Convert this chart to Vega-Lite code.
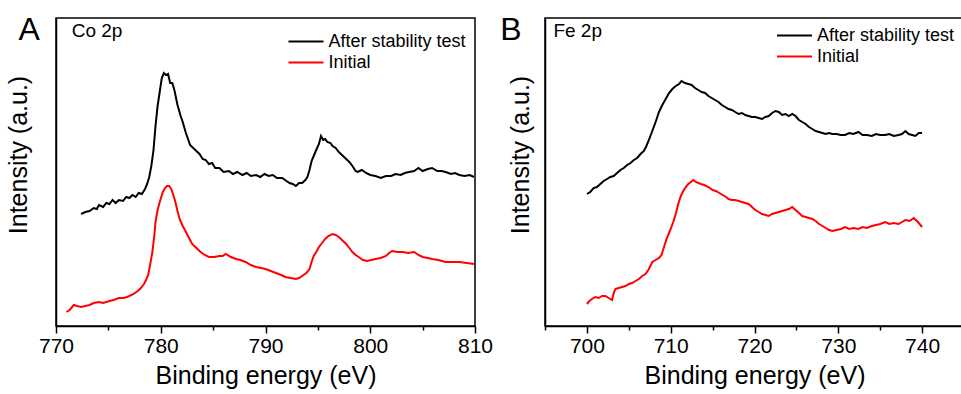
{
  "$schema": "https://vega.github.io/schema/vega-lite/v6.json",
  "padding": {"left": 5, "top": 12, "right": 0, "bottom": 0},
  "bounds": "flush",
  "spacing": 70,
  "config": {
    "font": "Liberation Sans",
    "view": {"stroke": "black", "strokeWidth": 1.5},
    "axis": {"domainColor": "black", "domainWidth": 1.5, "tickColor": "black", "tickWidth": 1.5, "labelColor": "black", "titleColor": "black", "labelFont": "Liberation Sans", "titleFont": "Liberation Sans", "labelFontSize": 21, "titleFontSize": 25, "titleFontWeight": "normal", "grid": false},
    "legend": {"labelFont": "Liberation Sans", "labelFontSize": 18, "labelColor": "black", "symbolType": "M-1.75,0H1.75", "symbolSize": 400, "symbolStrokeWidth": 2, "labelOffset": 11.5, "padding": 0, "rowPadding": 1}
  },
  "datasets": {
    "co2p": [
      {"eV":772.4,"intensity":112,"series":"After stability test"},{"eV":772.8,"intensity":114,"series":"After stability test"},{"eV":773.2,"intensity":115,"series":"After stability test"},{"eV":773.6,"intensity":118,"series":"After stability test"},{"eV":773.9,"intensity":117,"series":"After stability test"},{"eV":774.1,"intensity":121,"series":"After stability test"},{"eV":774.5,"intensity":119,"series":"After stability test"},{"eV":774.8,"intensity":123,"series":"After stability test"},{"eV":775.1,"intensity":122,"series":"After stability test"},{"eV":775.4,"intensity":126,"series":"After stability test"},{"eV":775.7,"intensity":123,"series":"After stability test"},{"eV":776.0,"intensity":126,"series":"After stability test"},{"eV":776.4,"intensity":125,"series":"After stability test"},{"eV":776.7,"intensity":129,"series":"After stability test"},{"eV":777.0,"intensity":128,"series":"After stability test"},{"eV":777.3,"intensity":131,"series":"After stability test"},{"eV":777.6,"intensity":129,"series":"After stability test"},{"eV":777.9,"intensity":133,"series":"After stability test"},{"eV":778.2,"intensity":132,"series":"After stability test"},{"eV":778.5,"intensity":137,"series":"After stability test"},{"eV":778.7,"intensity":142,"series":"After stability test"},{"eV":778.9,"intensity":149,"series":"After stability test"},{"eV":779.1,"intensity":160,"series":"After stability test"},{"eV":779.3,"intensity":175,"series":"After stability test"},{"eV":779.5,"intensity":200,"series":"After stability test"},{"eV":779.7,"intensity":220,"series":"After stability test"},{"eV":779.9,"intensity":234,"series":"After stability test"},{"eV":780.1,"intensity":248,"series":"After stability test"},{"eV":780.3,"intensity":253,"series":"After stability test"},{"eV":780.5,"intensity":251,"series":"After stability test"},{"eV":780.7,"intensity":252,"series":"After stability test"},{"eV":780.9,"intensity":243,"series":"After stability test"},{"eV":781.1,"intensity":243,"series":"After stability test"},{"eV":781.3,"intensity":236,"series":"After stability test"},{"eV":781.6,"intensity":221,"series":"After stability test"},{"eV":781.9,"intensity":210,"series":"After stability test"},{"eV":782.1,"intensity":204,"series":"After stability test"},{"eV":782.4,"intensity":193,"series":"After stability test"},{"eV":782.6,"intensity":187,"series":"After stability test"},{"eV":782.8,"intensity":181,"series":"After stability test"},{"eV":783.0,"intensity":179,"series":"After stability test"},{"eV":783.3,"intensity":176,"series":"After stability test"},{"eV":783.5,"intensity":174,"series":"After stability test"},{"eV":783.7,"intensity":172,"series":"After stability test"},{"eV":784.0,"intensity":167,"series":"After stability test"},{"eV":784.3,"intensity":166,"series":"After stability test"},{"eV":784.6,"intensity":162,"series":"After stability test"},{"eV":784.9,"intensity":163,"series":"After stability test"},{"eV":785.2,"intensity":158,"series":"After stability test"},{"eV":785.6,"intensity":158,"series":"After stability test"},{"eV":786.0,"intensity":154,"series":"After stability test"},{"eV":786.5,"intensity":155,"series":"After stability test"},{"eV":786.9,"intensity":152,"series":"After stability test"},{"eV":787.3,"intensity":154,"series":"After stability test"},{"eV":787.8,"intensity":151,"series":"After stability test"},{"eV":788.2,"intensity":153,"series":"After stability test"},{"eV":788.6,"intensity":150,"series":"After stability test"},{"eV":789.1,"intensity":151,"series":"After stability test"},{"eV":789.5,"intensity":149,"series":"After stability test"},{"eV":789.9,"intensity":152,"series":"After stability test"},{"eV":790.3,"intensity":150,"series":"After stability test"},{"eV":790.7,"intensity":151,"series":"After stability test"},{"eV":791.1,"intensity":148,"series":"After stability test"},{"eV":791.6,"intensity":148,"series":"After stability test"},{"eV":792.0,"intensity":145,"series":"After stability test"},{"eV":792.3,"intensity":143,"series":"After stability test"},{"eV":792.6,"intensity":142,"series":"After stability test"},{"eV":792.9,"intensity":140,"series":"After stability test"},{"eV":793.2,"intensity":143,"series":"After stability test"},{"eV":793.5,"intensity":143,"series":"After stability test"},{"eV":793.8,"intensity":146,"series":"After stability test"},{"eV":794.0,"intensity":149,"series":"After stability test"},{"eV":794.2,"intensity":156,"series":"After stability test"},{"eV":794.4,"intensity":165,"series":"After stability test"},{"eV":794.6,"intensity":170,"series":"After stability test"},{"eV":794.8,"intensity":175,"series":"After stability test"},{"eV":795.1,"intensity":182,"series":"After stability test"},{"eV":795.3,"intensity":190,"series":"After stability test"},{"eV":795.5,"intensity":186,"series":"After stability test"},{"eV":795.7,"intensity":187,"series":"After stability test"},{"eV":795.9,"intensity":184,"series":"After stability test"},{"eV":796.2,"intensity":183,"series":"After stability test"},{"eV":796.4,"intensity":180,"series":"After stability test"},{"eV":796.7,"intensity":178,"series":"After stability test"},{"eV":797.0,"intensity":174,"series":"After stability test"},{"eV":797.3,"intensity":171,"series":"After stability test"},{"eV":797.7,"intensity":167,"series":"After stability test"},{"eV":798.0,"intensity":164,"series":"After stability test"},{"eV":798.3,"intensity":160,"series":"After stability test"},{"eV":798.6,"intensity":155,"series":"After stability test"},{"eV":798.8,"intensity":154,"series":"After stability test"},{"eV":799.2,"intensity":156,"series":"After stability test"},{"eV":799.6,"intensity":153,"series":"After stability test"},{"eV":800.0,"intensity":151,"series":"After stability test"},{"eV":800.5,"intensity":150,"series":"After stability test"},{"eV":801.0,"intensity":148,"series":"After stability test"},{"eV":801.5,"intensity":150,"series":"After stability test"},{"eV":802.0,"intensity":150,"series":"After stability test"},{"eV":802.4,"intensity":152,"series":"After stability test"},{"eV":802.9,"intensity":151,"series":"After stability test"},{"eV":803.3,"intensity":153,"series":"After stability test"},{"eV":803.7,"intensity":154,"series":"After stability test"},{"eV":804.2,"intensity":155,"series":"After stability test"},{"eV":804.6,"intensity":158,"series":"After stability test"},{"eV":805.0,"intensity":155,"series":"After stability test"},{"eV":805.5,"intensity":157,"series":"After stability test"},{"eV":805.9,"intensity":158,"series":"After stability test"},{"eV":806.4,"intensity":155,"series":"After stability test"},{"eV":806.8,"intensity":155,"series":"After stability test"},{"eV":807.2,"intensity":154,"series":"After stability test"},{"eV":807.7,"intensity":152,"series":"After stability test"},{"eV":808.1,"intensity":153,"series":"After stability test"},{"eV":808.5,"intensity":151,"series":"After stability test"},{"eV":809.0,"intensity":150,"series":"After stability test"},{"eV":809.5,"intensity":151,"series":"After stability test"},{"eV":809.9,"intensity":149,"series":"After stability test"},
      {"eV":771.0,"intensity":14,"series":"Initial"},{"eV":771.3,"intensity":16,"series":"Initial"},{"eV":771.7,"intensity":21,"series":"Initial"},{"eV":772.0,"intensity":20,"series":"Initial"},{"eV":772.4,"intensity":19,"series":"Initial"},{"eV":772.8,"intensity":20,"series":"Initial"},{"eV":773.2,"intensity":21,"series":"Initial"},{"eV":773.6,"intensity":23,"series":"Initial"},{"eV":774.1,"intensity":24,"series":"Initial"},{"eV":774.5,"intensity":23,"series":"Initial"},{"eV":775.1,"intensity":25,"series":"Initial"},{"eV":775.5,"intensity":26,"series":"Initial"},{"eV":776.0,"intensity":28,"series":"Initial"},{"eV":776.5,"intensity":28,"series":"Initial"},{"eV":777.0,"intensity":30,"series":"Initial"},{"eV":777.4,"intensity":32,"series":"Initial"},{"eV":777.8,"intensity":35,"series":"Initial"},{"eV":778.1,"intensity":38,"series":"Initial"},{"eV":778.4,"intensity":42,"series":"Initial"},{"eV":778.6,"intensity":46,"series":"Initial"},{"eV":778.8,"intensity":51,"series":"Initial"},{"eV":779.0,"intensity":62,"series":"Initial"},{"eV":779.2,"intensity":74,"series":"Initial"},{"eV":779.4,"intensity":92,"series":"Initial"},{"eV":779.5,"intensity":104,"series":"Initial"},{"eV":779.7,"intensity":116,"series":"Initial"},{"eV":779.9,"intensity":124,"series":"Initial"},{"eV":780.2,"intensity":134,"series":"Initial"},{"eV":780.4,"intensity":138,"series":"Initial"},{"eV":780.6,"intensity":140,"series":"Initial"},{"eV":780.8,"intensity":140,"series":"Initial"},{"eV":781.0,"intensity":137,"series":"Initial"},{"eV":781.2,"intensity":131,"series":"Initial"},{"eV":781.4,"intensity":124,"series":"Initial"},{"eV":781.6,"intensity":115,"series":"Initial"},{"eV":781.8,"intensity":107,"series":"Initial"},{"eV":782.1,"intensity":100,"series":"Initial"},{"eV":782.4,"intensity":94,"series":"Initial"},{"eV":782.7,"intensity":88,"series":"Initial"},{"eV":783.0,"intensity":82,"series":"Initial"},{"eV":783.4,"intensity":78,"series":"Initial"},{"eV":783.8,"intensity":74,"series":"Initial"},{"eV":784.2,"intensity":71,"series":"Initial"},{"eV":784.6,"intensity":69,"series":"Initial"},{"eV":785.1,"intensity":69,"series":"Initial"},{"eV":785.6,"intensity":70,"series":"Initial"},{"eV":785.9,"intensity":70,"series":"Initial"},{"eV":786.2,"intensity":72,"series":"Initial"},{"eV":786.7,"intensity":69,"series":"Initial"},{"eV":787.2,"intensity":67,"series":"Initial"},{"eV":787.6,"intensity":66,"series":"Initial"},{"eV":788.1,"intensity":64,"series":"Initial"},{"eV":788.6,"intensity":61,"series":"Initial"},{"eV":789.1,"intensity":59,"series":"Initial"},{"eV":789.6,"intensity":58,"series":"Initial"},{"eV":790.0,"intensity":57,"series":"Initial"},{"eV":790.5,"intensity":55,"series":"Initial"},{"eV":791.0,"intensity":53,"series":"Initial"},{"eV":791.5,"intensity":51,"series":"Initial"},{"eV":791.9,"intensity":49,"series":"Initial"},{"eV":792.4,"intensity":48,"series":"Initial"},{"eV":792.9,"intensity":47,"series":"Initial"},{"eV":793.2,"intensity":48,"series":"Initial"},{"eV":793.5,"intensity":50,"series":"Initial"},{"eV":793.9,"intensity":53,"series":"Initial"},{"eV":794.2,"intensity":57,"series":"Initial"},{"eV":794.4,"intensity":64,"series":"Initial"},{"eV":794.6,"intensity":70,"series":"Initial"},{"eV":794.9,"intensity":75,"series":"Initial"},{"eV":795.1,"intensity":79,"series":"Initial"},{"eV":795.4,"intensity":83,"series":"Initial"},{"eV":795.7,"intensity":87,"series":"Initial"},{"eV":796.0,"intensity":90,"series":"Initial"},{"eV":796.4,"intensity":92,"series":"Initial"},{"eV":796.7,"intensity":91,"series":"Initial"},{"eV":797.0,"intensity":89,"series":"Initial"},{"eV":797.4,"intensity":85,"series":"Initial"},{"eV":797.7,"intensity":82,"series":"Initial"},{"eV":798.0,"intensity":78,"series":"Initial"},{"eV":798.3,"intensity":74,"series":"Initial"},{"eV":798.6,"intensity":71,"series":"Initial"},{"eV":798.9,"intensity":69,"series":"Initial"},{"eV":799.3,"intensity":66,"series":"Initial"},{"eV":799.7,"intensity":65,"series":"Initial"},{"eV":800.1,"intensity":66,"series":"Initial"},{"eV":800.5,"intensity":67,"series":"Initial"},{"eV":801.0,"intensity":68,"series":"Initial"},{"eV":801.5,"intensity":70,"series":"Initial"},{"eV":801.8,"intensity":73,"series":"Initial"},{"eV":802.1,"intensity":75,"series":"Initial"},{"eV":802.6,"intensity":74,"series":"Initial"},{"eV":803.1,"intensity":74,"series":"Initial"},{"eV":803.6,"intensity":73,"series":"Initial"},{"eV":804.2,"intensity":74,"series":"Initial"},{"eV":804.6,"intensity":71,"series":"Initial"},{"eV":805.0,"intensity":69,"series":"Initial"},{"eV":805.5,"intensity":68,"series":"Initial"},{"eV":805.9,"intensity":67,"series":"Initial"},{"eV":806.5,"intensity":66,"series":"Initial"},{"eV":807.2,"intensity":64,"series":"Initial"},{"eV":807.8,"intensity":64,"series":"Initial"},{"eV":808.5,"intensity":64,"series":"Initial"},{"eV":809.2,"intensity":63,"series":"Initial"},{"eV":809.9,"intensity":62,"series":"Initial"}
    ],
    "fe2p": [
      {"eV":700.0,"intensity":132,"series":"After stability test"},{"eV":700.4,"intensity":134,"series":"After stability test"},{"eV":700.8,"intensity":138,"series":"After stability test"},{"eV":701.2,"intensity":139,"series":"After stability test"},{"eV":701.6,"intensity":142,"series":"After stability test"},{"eV":702.0,"intensity":145,"series":"After stability test"},{"eV":702.4,"intensity":147,"series":"After stability test"},{"eV":702.8,"intensity":149,"series":"After stability test"},{"eV":703.2,"intensity":150,"series":"After stability test"},{"eV":703.6,"intensity":153,"series":"After stability test"},{"eV":704.0,"intensity":156,"series":"After stability test"},{"eV":704.4,"intensity":158,"series":"After stability test"},{"eV":704.8,"intensity":161,"series":"After stability test"},{"eV":705.2,"intensity":163,"series":"After stability test"},{"eV":705.6,"intensity":166,"series":"After stability test"},{"eV":706.0,"intensity":168,"series":"After stability test"},{"eV":706.4,"intensity":172,"series":"After stability test"},{"eV":706.8,"intensity":175,"series":"After stability test"},{"eV":707.1,"intensity":180,"series":"After stability test"},{"eV":707.4,"intensity":186,"series":"After stability test"},{"eV":707.8,"intensity":195,"series":"After stability test"},{"eV":708.2,"intensity":204,"series":"After stability test"},{"eV":708.6,"intensity":214,"series":"After stability test"},{"eV":709.0,"intensity":221,"series":"After stability test"},{"eV":709.4,"intensity":227,"series":"After stability test"},{"eV":709.8,"intensity":233,"series":"After stability test"},{"eV":710.2,"intensity":237,"series":"After stability test"},{"eV":710.6,"intensity":240,"series":"After stability test"},{"eV":711.0,"intensity":242,"series":"After stability test"},{"eV":711.3,"intensity":245,"series":"After stability test"},{"eV":711.7,"intensity":243,"series":"After stability test"},{"eV":712.1,"intensity":242,"series":"After stability test"},{"eV":712.5,"intensity":241,"series":"After stability test"},{"eV":712.9,"intensity":238,"series":"After stability test"},{"eV":713.3,"intensity":236,"series":"After stability test"},{"eV":713.7,"intensity":234,"series":"After stability test"},{"eV":714.1,"intensity":233,"series":"After stability test"},{"eV":714.5,"intensity":230,"series":"After stability test"},{"eV":714.9,"intensity":228,"series":"After stability test"},{"eV":715.3,"intensity":226,"series":"After stability test"},{"eV":715.7,"intensity":224,"series":"After stability test"},{"eV":716.1,"intensity":221,"series":"After stability test"},{"eV":716.5,"intensity":219,"series":"After stability test"},{"eV":716.9,"intensity":217,"series":"After stability test"},{"eV":717.3,"intensity":216,"series":"After stability test"},{"eV":717.7,"intensity":214,"series":"After stability test"},{"eV":718.1,"intensity":212,"series":"After stability test"},{"eV":718.5,"intensity":213,"series":"After stability test"},{"eV":718.9,"intensity":211,"series":"After stability test"},{"eV":719.3,"intensity":210,"series":"After stability test"},{"eV":719.7,"intensity":209,"series":"After stability test"},{"eV":720.1,"intensity":209,"series":"After stability test"},{"eV":720.5,"intensity":208,"series":"After stability test"},{"eV":720.9,"intensity":207,"series":"After stability test"},{"eV":721.3,"intensity":209,"series":"After stability test"},{"eV":721.7,"intensity":210,"series":"After stability test"},{"eV":722.1,"intensity":213,"series":"After stability test"},{"eV":722.5,"intensity":215,"series":"After stability test"},{"eV":722.9,"intensity":214,"series":"After stability test"},{"eV":723.3,"intensity":211,"series":"After stability test"},{"eV":723.7,"intensity":212,"series":"After stability test"},{"eV":724.1,"intensity":210,"series":"After stability test"},{"eV":724.5,"intensity":212,"series":"After stability test"},{"eV":724.9,"intensity":210,"series":"After stability test"},{"eV":725.3,"intensity":206,"series":"After stability test"},{"eV":725.7,"intensity":204,"series":"After stability test"},{"eV":726.1,"intensity":202,"series":"After stability test"},{"eV":726.5,"intensity":199,"series":"After stability test"},{"eV":726.9,"intensity":197,"series":"After stability test"},{"eV":727.3,"intensity":195,"series":"After stability test"},{"eV":727.7,"intensity":194,"series":"After stability test"},{"eV":728.1,"intensity":193,"series":"After stability test"},{"eV":728.5,"intensity":192,"series":"After stability test"},{"eV":728.9,"intensity":193,"series":"After stability test"},{"eV":729.3,"intensity":192,"series":"After stability test"},{"eV":729.8,"intensity":192,"series":"After stability test"},{"eV":730.3,"intensity":191,"series":"After stability test"},{"eV":730.8,"intensity":191,"series":"After stability test"},{"eV":731.3,"intensity":193,"series":"After stability test"},{"eV":731.8,"intensity":192,"series":"After stability test"},{"eV":732.4,"intensity":194,"series":"After stability test"},{"eV":732.9,"intensity":191,"series":"After stability test"},{"eV":733.4,"intensity":191,"series":"After stability test"},{"eV":734.0,"intensity":190,"series":"After stability test"},{"eV":734.5,"intensity":192,"series":"After stability test"},{"eV":735.0,"intensity":191,"series":"After stability test"},{"eV":735.6,"intensity":191,"series":"After stability test"},{"eV":736.1,"intensity":192,"series":"After stability test"},{"eV":736.6,"intensity":190,"series":"After stability test"},{"eV":737.2,"intensity":191,"series":"After stability test"},{"eV":737.6,"intensity":192,"series":"After stability test"},{"eV":738.0,"intensity":195,"series":"After stability test"},{"eV":738.4,"intensity":192,"series":"After stability test"},{"eV":738.8,"intensity":191,"series":"After stability test"},{"eV":739.2,"intensity":190,"series":"After stability test"},{"eV":739.6,"intensity":193,"series":"After stability test"},{"eV":740.0,"intensity":193,"series":"After stability test"},
      {"eV":700.0,"intensity":22,"series":"Initial"},{"eV":700.3,"intensity":25,"series":"Initial"},{"eV":700.6,"intensity":27,"series":"Initial"},{"eV":701.0,"intensity":29,"series":"Initial"},{"eV":701.4,"intensity":28,"series":"Initial"},{"eV":701.8,"intensity":30,"series":"Initial"},{"eV":702.2,"intensity":30,"series":"Initial"},{"eV":702.6,"intensity":28,"series":"Initial"},{"eV":703.0,"intensity":26,"series":"Initial"},{"eV":703.2,"intensity":33,"series":"Initial"},{"eV":703.4,"intensity":37,"series":"Initial"},{"eV":703.8,"intensity":38,"series":"Initial"},{"eV":704.2,"intensity":39,"series":"Initial"},{"eV":704.6,"intensity":40,"series":"Initial"},{"eV":705.0,"intensity":42,"series":"Initial"},{"eV":705.4,"intensity":43,"series":"Initial"},{"eV":705.8,"intensity":45,"series":"Initial"},{"eV":706.2,"intensity":47,"series":"Initial"},{"eV":706.6,"intensity":50,"series":"Initial"},{"eV":707.0,"intensity":52,"series":"Initial"},{"eV":707.4,"intensity":57,"series":"Initial"},{"eV":707.8,"intensity":64,"series":"Initial"},{"eV":708.2,"intensity":66,"series":"Initial"},{"eV":708.6,"intensity":68,"series":"Initial"},{"eV":708.9,"intensity":71,"series":"Initial"},{"eV":709.2,"intensity":79,"series":"Initial"},{"eV":709.5,"intensity":87,"series":"Initial"},{"eV":709.8,"intensity":93,"series":"Initial"},{"eV":710.0,"intensity":97,"series":"Initial"},{"eV":710.3,"intensity":104,"series":"Initial"},{"eV":710.6,"intensity":112,"series":"Initial"},{"eV":710.9,"intensity":122,"series":"Initial"},{"eV":711.2,"intensity":130,"series":"Initial"},{"eV":711.5,"intensity":135,"series":"Initial"},{"eV":711.8,"intensity":139,"series":"Initial"},{"eV":712.1,"intensity":142,"series":"Initial"},{"eV":712.4,"intensity":144,"series":"Initial"},{"eV":712.7,"intensity":146,"series":"Initial"},{"eV":713.0,"intensity":144,"series":"Initial"},{"eV":713.3,"intensity":143,"series":"Initial"},{"eV":713.6,"intensity":142,"series":"Initial"},{"eV":714.0,"intensity":141,"series":"Initial"},{"eV":714.5,"intensity":139,"series":"Initial"},{"eV":715.0,"intensity":136,"series":"Initial"},{"eV":715.4,"intensity":135,"series":"Initial"},{"eV":715.8,"intensity":133,"series":"Initial"},{"eV":716.2,"intensity":131,"series":"Initial"},{"eV":716.6,"intensity":129,"series":"Initial"},{"eV":716.9,"intensity":127,"series":"Initial"},{"eV":717.3,"intensity":126,"series":"Initial"},{"eV":717.7,"intensity":126,"series":"Initial"},{"eV":718.1,"intensity":125,"series":"Initial"},{"eV":718.5,"intensity":124,"series":"Initial"},{"eV":718.9,"intensity":123,"series":"Initial"},{"eV":719.3,"intensity":122,"series":"Initial"},{"eV":719.7,"intensity":119,"series":"Initial"},{"eV":720.1,"intensity":116,"series":"Initial"},{"eV":720.5,"intensity":114,"series":"Initial"},{"eV":720.9,"intensity":112,"series":"Initial"},{"eV":721.3,"intensity":111,"series":"Initial"},{"eV":721.7,"intensity":110,"series":"Initial"},{"eV":722.1,"intensity":112,"series":"Initial"},{"eV":722.5,"intensity":113,"series":"Initial"},{"eV":722.9,"intensity":114,"series":"Initial"},{"eV":723.3,"intensity":115,"series":"Initial"},{"eV":723.7,"intensity":116,"series":"Initial"},{"eV":724.1,"intensity":117,"series":"Initial"},{"eV":724.5,"intensity":119,"series":"Initial"},{"eV":724.9,"intensity":116,"series":"Initial"},{"eV":725.3,"intensity":113,"series":"Initial"},{"eV":725.7,"intensity":110,"series":"Initial"},{"eV":726.1,"intensity":109,"series":"Initial"},{"eV":726.5,"intensity":108,"series":"Initial"},{"eV":726.9,"intensity":107,"series":"Initial"},{"eV":727.3,"intensity":105,"series":"Initial"},{"eV":727.7,"intensity":102,"series":"Initial"},{"eV":728.1,"intensity":100,"series":"Initial"},{"eV":728.5,"intensity":98,"series":"Initial"},{"eV":728.9,"intensity":96,"series":"Initial"},{"eV":729.3,"intensity":95,"series":"Initial"},{"eV":729.8,"intensity":96,"series":"Initial"},{"eV":730.3,"intensity":97,"series":"Initial"},{"eV":730.8,"intensity":99,"series":"Initial"},{"eV":731.3,"intensity":97,"series":"Initial"},{"eV":731.8,"intensity":98,"series":"Initial"},{"eV":732.4,"intensity":97,"series":"Initial"},{"eV":732.9,"intensity":99,"series":"Initial"},{"eV":733.4,"intensity":98,"series":"Initial"},{"eV":734.0,"intensity":100,"series":"Initial"},{"eV":734.5,"intensity":101,"series":"Initial"},{"eV":735.0,"intensity":102,"series":"Initial"},{"eV":735.6,"intensity":104,"series":"Initial"},{"eV":736.1,"intensity":102,"series":"Initial"},{"eV":736.6,"intensity":103,"series":"Initial"},{"eV":737.2,"intensity":102,"series":"Initial"},{"eV":737.6,"intensity":104,"series":"Initial"},{"eV":738.0,"intensity":106,"series":"Initial"},{"eV":738.5,"intensity":105,"series":"Initial"},{"eV":739.0,"intensity":108,"series":"Initial"},{"eV":739.5,"intensity":104,"series":"Initial"},{"eV":740.0,"intensity":99,"series":"Initial"}
    ]
  },
  "resolve": {"scale": {"color": "independent", "x": "independent"}, "legend": {"color": "independent"}},
  "hconcat": [
    {
      "width": 419,
      "height": 308,
      "layer": [
        {
          "data": {"name": "co2p"},
          "mark": {"type": "line", "strokeWidth": 2},
          "encoding": {
            "x": {"field": "eV", "type": "quantitative", "scale": {"domain": [770, 810], "nice": false, "zero": false},
              "axis": {"title": "Binding energy (eV)", "values": [770, 775, 780, 785, 790, 795, 800, 805, 810], "labelExpr": "datum.value % 10 === 0 ? datum.label : ''", "tickSize": {"condition": {"test": "datum.value % 10 === 0", "value": 7}, "value": 4}, "labelPadding": 2, "titlePadding": 7, "labelFlush": false, "labelOverlap": false}},
            "y": {"field": "intensity", "type": "quantitative", "scale": {"domain": [0, 308], "nice": false, "zero": false},
              "axis": {"title": "Intensity (a.u.)", "ticks": false, "labels": false, "titleX": -29.5, "titleY": 136.5, "titleBaseline": "alphabetic"}},
            "color": {"field": "series", "type": "nominal", "scale": {"domain": ["After stability test", "Initial"], "range": ["#000000", "#ff0000"]},
              "legend": {"title": null, "orient": "none", "legendX": 239, "legendY": 12.5}}
          }
        },
        {
          "data": {"values": [{"eV": 771.5, "intensity": 289.5, "label": "Co 2p", "size": 19}, {"eV": 766.42, "intensity": 286.3, "label": "A", "size": 32}]},
          "mark": {"type": "text", "align": "left", "baseline": "alphabetic", "color": "black", "font": "Liberation Sans"},
          "encoding": {
            "x": {"field": "eV", "type": "quantitative"},
            "y": {"field": "intensity", "type": "quantitative"},
            "text": {"field": "label"},
            "size": {"field": "size", "type": "quantitative", "scale": null, "legend": null}
          }
        }
      ]
    },
    {
      "width": 419,
      "height": 308,
      "layer": [
        {
          "data": {"name": "fe2p"},
          "mark": {"type": "line", "strokeWidth": 2},
          "encoding": {
            "x": {"field": "eV", "type": "quantitative", "scale": {"domain": [695, 745], "nice": false, "zero": false},
              "axis": {"title": "Binding energy (eV)", "values": [695, 700, 705, 710, 715, 720, 725, 730, 735, 740, 745], "labelExpr": "datum.value % 10 === 0 ? datum.label : ''", "tickSize": {"condition": {"test": "datum.value % 10 === 0", "value": 7}, "value": 4}, "labelPadding": 2, "titlePadding": 7, "labelFlush": false, "labelOverlap": false}},
            "y": {"field": "intensity", "type": "quantitative", "scale": {"domain": [0, 308], "nice": false, "zero": false},
              "axis": {"title": "Intensity (a.u.)", "ticks": false, "labels": false, "titleX": -17, "titleY": 136.5, "titleBaseline": "alphabetic"}},
            "color": {"field": "series", "type": "nominal", "scale": {"domain": ["After stability test", "Initial"], "range": ["#000000", "#ff0000"]},
              "legend": {"title": null, "orient": "none", "legendX": 238.5, "legendY": 6.5}}
          }
        },
        {
          "data": {"values": [{"eV": 696.0, "intensity": 289.5, "label": "Fe 2p", "size": 19}, {"eV": 689.65, "intensity": 286, "label": "B", "size": 32}]},
          "mark": {"type": "text", "align": "left", "baseline": "alphabetic", "color": "black", "font": "Liberation Sans"},
          "encoding": {
            "x": {"field": "eV", "type": "quantitative"},
            "y": {"field": "intensity", "type": "quantitative"},
            "text": {"field": "label"},
            "size": {"field": "size", "type": "quantitative", "scale": null, "legend": null}
          }
        }
      ]
    }
  ]
}
